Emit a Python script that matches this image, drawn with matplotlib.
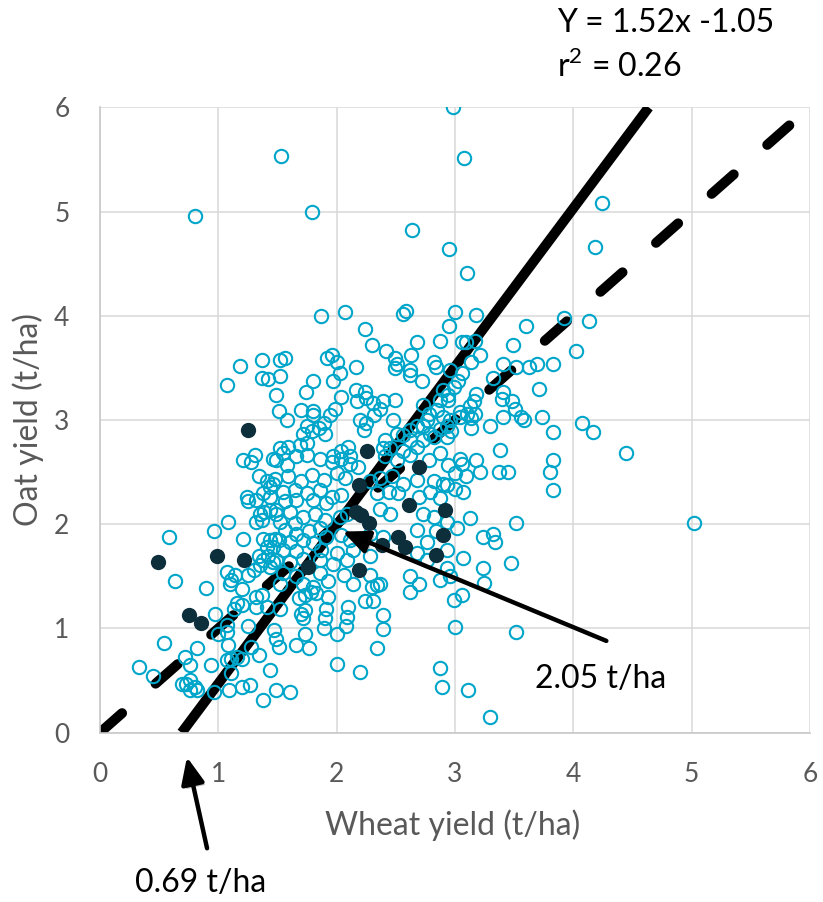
import matplotlib.pyplot as plt
import matplotlib.patheffects as pe

# open circles: wheat yield (x) vs oat yield (y), t/ha
wheat = [
    2.98, 1.53, 3.08, 0.80, 1.79, 2.64, 4.24, 2.95, 4.18, 3.10,
    1.87, 2.07, 2.56, 2.59, 3.00, 3.18, 2.24, 2.95, 3.60, 3.92, 4.13,
    1.18, 1.07, 1.37, 1.37, 1.42, 1.52, 1.52, 1.49, 1.51, 1.21, 1.31, 1.46, 1.52, 1.28,
    2.30, 2.42, 2.68, 2.87, 1.56, 1.92, 1.96, 2.00, 2.16, 2.49, 2.51, 2.49, 2.63, 2.62,
    2.62, 2.72, 2.82, 2.84, 1.80, 1.74, 1.97, 2.03, 2.04, 2.16, 2.24, 2.25, 2.17, 2.31,
    2.39, 2.49, 1.70, 1.80, 1.80, 1.58, 1.94, 1.99, 2.20, 2.25, 2.23, 2.48, 2.37, 2.32,
    1.89, 1.85, 1.90, 1.72, 1.79, 1.75, 1.59, 1.69, 1.75, 1.55, 1.97, 2.04, 2.10, 2.11,
    2.41, 2.45, 2.39, 2.85, 2.90, 2.94, 2.93, 2.87, 2.82, 2.93, 2.96, 2.73, 2.78, 2.76,
    2.51, 2.56, 2.62, 2.68, 2.73, 2.73, 2.68, 2.56, 2.62, 2.79,
    3.06, 3.09, 3.17, 3.49, 4.02, 3.21, 3.14, 2.96, 3.41, 3.52, 3.63, 3.69, 3.83, 3.06,
    2.99, 3.03, 3.32, 3.71, 2.90, 2.94, 2.87, 3.18, 3.41, 3.40, 3.48, 3.51, 3.56, 3.58,
    3.16, 3.13, 3.10, 3.14, 3.17, 3.04, 3.04, 3.41, 3.30, 3.14, 3.74, 3.83, 4.07, 4.17,
    2.97,
    3.04, 3.06, 3.18, 3.38, 4.45, 3.83, 3.80, 3.83, 3.21, 3.37, 3.45, 3.00, 3.09, 2.90,
    3.00, 3.07, 3.13, 3.02, 3.52, 5.02, 3.24, 3.32, 3.34, 3.07, 3.47, 3.24, 2.93, 2.96,
    3.25,
    2.99, 3.06, 3.00, 3.52, 2.87, 2.89, 3.11, 3.30,
    2.62, 2.30, 2.34, 2.24, 2.31, 2.39, 2.39, 2.34, 2.10, 2.09, 2.08, 2.00, 1.91, 1.90,
    1.89, 1.93, 1.83, 1.78, 1.73, 1.68, 1.70, 1.73, 1.72, 1.73, 1.66, 1.77, 2.00, 2.20,
    1.49, 1.61, 1.44, 1.47, 1.49, 1.51, 1.52,
    0.63, 0.90, 0.97, 0.54, 0.33, 0.45, 0.72, 0.82, 0.76, 0.69, 0.73, 0.76, 0.80, 0.76,
    0.82, 0.96, 0.94, 1.00, 1.07, 1.07, 1.11, 1.16, 1.20, 1.11, 1.09, 1.20, 1.27, 1.28,
    1.34, 1.38, 1.08, 1.25, 1.10, 1.20, 1.16, 1.20, 1.13, 1.32, 1.37, 1.41, 1.32, 1.07,
    0.58, 0.96, 1.08, 1.21, 1.07, 1.14, 1.11, 1.25, 1.30,
    1.34, 1.41, 1.44, 1.24, 1.25, 1.32, 1.38, 1.44, 1.46, 1.35, 1.39, 1.32, 1.37, 1.44,
    1.49, 1.38, 1.44, 1.48, 1.41, 1.46, 1.34, 1.38, 1.42, 1.46, 1.35, 1.44,
    1.49, 1.58, 1.66, 1.75, 1.86, 1.96, 2.04, 2.11, 2.18, 2.41, 2.51, 2.62, 2.78, 2.87, 2.94,
    1.48, 1.59, 1.70, 1.79, 1.89, 2.00, 2.07, 2.28, 2.37, 2.47, 2.56, 2.68, 2.82, 2.93,
    1.55, 1.65, 1.75, 1.86, 1.96, 2.04, 2.34, 2.44, 2.52, 2.70, 2.79, 2.87, 1.56, 1.66,
    1.80, 1.91,
    1.49, 1.61, 1.72, 1.82, 1.90, 2.03, 2.09, 2.37, 2.45, 2.73, 2.82, 2.93, 1.52, 1.65,
    1.56, 1.66, 1.77, 1.86, 1.91, 2.04, 2.11, 2.28, 2.39, 2.68, 2.76, 2.84, 1.51, 1.61,
    1.72, 1.80,
    1.55, 1.66, 1.87, 2.00, 2.14, 2.28, 2.68, 2.76, 2.93, 1.49, 1.61, 1.72, 1.86, 1.97, 2.09,
    1.55, 1.66, 1.86, 1.93, 2.06, 2.14, 2.28, 2.37, 2.62, 2.70, 2.87, 1.52, 1.72, 1.80,
]
oat = [
    6.00, 5.53, 5.51, 4.96, 5.00, 4.82, 5.08, 4.64, 4.66, 4.41,
    4.00, 4.04, 4.02, 4.05, 4.04, 4.01, 3.87, 3.90, 3.90, 3.98, 3.95,
    3.52, 3.34, 3.58, 3.40, 3.39, 3.58, 3.42, 3.24, 3.09, 2.62, 2.66, 2.63, 2.73, 2.60,
    3.72, 3.66, 3.75, 3.76, 3.59, 3.59, 3.62, 3.56, 3.51, 3.59, 3.54, 3.50, 3.62, 3.48,
    3.43, 3.37, 3.56, 3.51, 3.37, 3.27, 3.37, 3.45, 3.22, 3.29, 3.27, 3.21, 3.18, 3.16,
    3.18, 3.19, 3.10, 3.09, 3.05, 3.00, 3.05, 3.11, 3.00, 2.97, 2.90, 3.00, 3.11, 3.05,
    2.97, 2.92, 2.87, 2.87, 2.89, 2.94, 2.74, 2.76, 2.78, 2.68, 2.65, 2.70, 2.74, 2.65,
    2.81, 2.73, 2.73, 3.10, 3.03, 3.19, 2.94, 2.91, 2.84, 2.84, 3.00, 3.14, 3.06, 3.00,
    2.87, 2.86, 2.90, 2.94, 2.94, 2.81, 2.74, 2.70, 2.81, 2.87,
    3.75, 3.75, 3.76, 3.72, 3.66, 3.62, 3.56, 3.48, 3.54, 3.51, 3.51, 3.54, 3.54, 3.45,
    3.32, 3.37, 3.40, 3.30, 3.29, 3.24, 3.19, 3.25, 3.27, 3.20, 3.18, 3.11, 3.03, 3.00,
    3.18, 3.13, 3.06, 3.02, 3.06, 3.03, 3.08, 3.03, 2.94, 2.92, 3.03, 2.88, 2.97, 2.88,
    2.89,
    2.63, 2.58, 2.62, 2.71, 2.68, 2.62, 2.50, 2.33, 2.50, 2.50, 2.50, 2.49, 2.46, 2.39,
    2.34, 2.31, 2.06, 1.96, 2.01, 2.01, 1.88, 1.91, 1.83, 1.68, 1.63, 1.58, 1.58, 1.50,
    1.44,
    1.27, 1.32, 1.01, 0.97, 0.62, 0.44, 0.41, 0.15,
    1.35, 1.40, 1.42, 1.26, 1.26, 1.13, 0.99, 0.81, 1.21, 1.11, 1.02, 0.95, 1.19, 1.10,
    1.00, 1.30, 1.34, 1.35, 1.32, 1.29, 1.14, 1.18, 1.10, 0.95, 0.84, 0.81, 0.66, 0.58,
    0.41, 0.39, 0.60, 0.98, 0.90, 0.82, 1.19,
    1.45, 1.39, 1.14, 0.86, 0.63, 0.54, 0.73, 0.81, 0.65, 0.47, 0.47, 0.50, 0.44, 0.41,
    0.41, 0.39, 0.65, 0.95, 0.97, 0.70, 0.71, 0.73, 0.71, 0.57, 0.41, 0.44, 0.46, 0.82,
    0.74, 0.31, 0.84, 1.02, 1.43, 1.38, 1.24, 1.22, 1.19, 1.30, 1.32, 1.21, 1.21, 1.03,
    1.88, 1.93, 2.02, 1.86, 1.54, 1.51, 1.46, 1.51, 1.56,
    2.46, 2.41, 2.36, 2.26, 2.22, 2.23, 2.30, 2.26, 2.39, 2.10, 2.12, 2.02, 2.04, 2.14,
    2.10, 1.86, 1.85, 1.86, 1.78, 1.78, 1.69, 1.66, 1.69, 1.64, 1.61, 1.59,
    2.62, 2.57, 2.65, 2.66, 2.63, 2.60, 2.63, 2.58, 2.55, 2.65, 2.62, 2.66, 2.62, 2.68, 2.57,
    2.43, 2.46, 2.41, 2.47, 2.42, 2.49, 2.44, 2.41, 2.44, 2.46, 2.39, 2.42, 2.41, 2.38,
    2.31, 2.33, 2.30, 2.33, 2.26, 2.28, 2.30, 2.31, 2.30, 2.26, 2.31, 2.25, 2.22, 2.23,
    2.23, 2.20,
    2.14, 2.12, 2.07, 2.10, 2.04, 2.07, 2.10, 2.15, 2.10, 2.10, 2.07, 2.02, 2.02, 2.01,
    1.94, 1.91, 1.93, 1.96, 1.88, 1.90, 1.85, 1.91, 1.88, 1.94, 1.83, 1.93, 1.85, 1.83,
    1.85, 1.82,
    1.75, 1.74, 1.75, 1.72, 1.75, 1.69, 1.72, 1.66, 1.75, 1.66, 1.64, 1.67, 1.66, 1.62, 1.66,
    1.53, 1.50, 1.53, 1.45, 1.51, 1.43, 1.51, 1.43, 1.50, 1.43, 1.46, 1.43, 1.43, 1.40,
]

# filled (dark) points
wheat_dark = [0.49, 0.75, 0.85, 0.99, 1.22, 1.25, 1.76, 2.19, 2.16, 2.21, 2.27,
              2.26, 2.19, 2.38, 2.52, 2.58, 2.61, 2.70, 2.84, 2.90, 2.92]
oat_dark = [1.64, 1.13, 1.05, 1.69, 1.66, 2.90, 1.59, 2.38, 2.12, 2.09, 2.01,
            2.70, 1.56, 1.80, 1.88, 1.78, 2.18, 2.55, 1.70, 1.90, 2.14]

# regression Y = 1.52x - 1.05 and the 1:1 line
slope, intercept = 1.52, -1.05
fit_x = [0.69, (6 + 1.05) / 1.52]
one_to_one = [0, 5.88]
ticks = [0, 1, 2, 3, 4, 5, 6]

plt.rcParams['font.family'] = ['Lato', 'DejaVu Sans']
plt.rcParams['mathtext.fontset'] = 'custom'
plt.rcParams['mathtext.rm'] = 'Lato'

fig = plt.figure(figsize=(8.23, 9.02), dpi=100)
ax = fig.add_axes([0.1215, 0.1878, 0.8625, 0.6932])

ax.plot(fit_x, [slope * v + intercept for v in fit_x], color='black', lw=7.2,
        solid_capstyle='butt', zorder=2)
ax.plot(one_to_one, one_to_one, color='black', lw=7.2, linestyle=(0, (2.94, 4.47)),
        dash_capstyle='round', zorder=2)

ax.plot(wheat, oat, 'o', ms=9.6, mfc='none', mec='#00A6CA', mew=1.5, zorder=3)
ax.plot(wheat_dark, oat_dark, 'o', ms=11, mfc='#0D2F3B', mec='#0D2F3B', mew=0, zorder=4)

ax.set_xlim(0, 6)
ax.set_ylim(0, 6)
ax.set_xticks(ticks)
ax.set_yticks(ticks)
ax.grid(True, color='#D9D9D9', lw=1.1)
ax.set_axisbelow(True)
for s in ['top', 'right']:
    ax.spines[s].set_visible(False)
for s in ['left', 'bottom']:
    ax.spines[s].set_color('#C8C8C8')
    ax.spines[s].set_linewidth(1.2)
ax.tick_params(length=0, labelsize=19, labelcolor='#595959')
ax.tick_params(axis='x', pad=21)
ax.tick_params(axis='y', pad=22)

ax.set_xlabel('Wheat yield (t/ha)', fontsize=23, color='#595959', va='center')
ax.xaxis.set_label_coords(0.497, -0.148)
ax.set_ylabel('Oat yield (t/ha)', fontsize=23, color='#595959', va='center')
ax.yaxis.set_label_coords(-0.101, 0.5)

ax.text(3.86, 6.72, 'Y = 1.52x -1.05', fontsize=23, ha='left', va='baseline', clip_on=False)
ax.text(3.86, 6.29, r'r$^{2}$ = 0.26', fontsize=23, ha='left', va='baseline', clip_on=False)
ax.text(3.68, 0.43, '2.05 t/ha', fontsize=23, ha='left', va='baseline')
ax.text(0.30, -1.53, '0.69 t/ha', fontsize=23, ha='left', va='baseline', clip_on=False)

arrow = dict(arrowstyle='-|>,head_length=0.8,head_width=0.35', mutation_scale=20,
             color='black', lw=3.2, shrinkA=0, shrinkB=0,
             path_effects=[pe.SimplePatchShadow(offset=(2, -2), alpha=0.25), pe.Normal()])
ax.annotate('', xy=(2.05, 1.93), xytext=(4.28, 0.88), arrowprops=arrow, zorder=5)
ax.annotate('', xy=(0.735, -0.235), xytext=(0.905, -1.11), arrowprops=arrow,
            annotation_clip=False, zorder=5)

fig.savefig('out.png', dpi=100)
